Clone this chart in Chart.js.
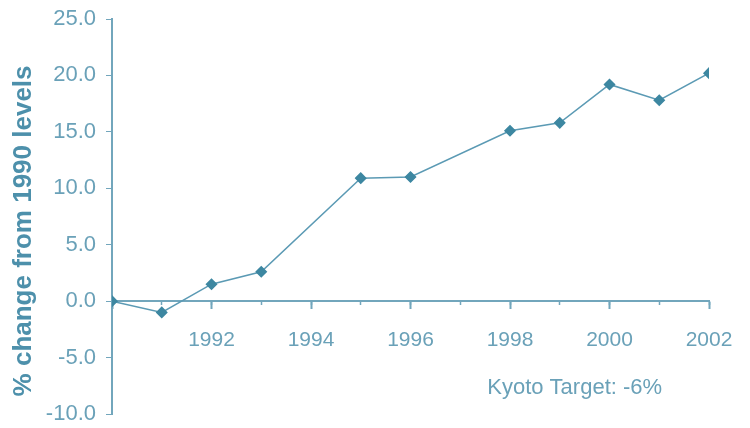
<!DOCTYPE html>
<html>
<head>
  <title>Change from 1990 levels</title>
  <script src="https://cdn.jsdelivr.net/npm/chart.js"></script>
  <style>
    body { margin: 0; background: #fff; }
    #wrap { width: 750px; height: 428px; }
  </style>
</head>
<body>
<div id="wrap"><canvas id="chart"></canvas></div>
<script>
  const years = [1990, 1991, 1992, 1993, 1995, 1996, 1998, 1999, 2000, 2001, 2002];
  const change = [0.0, -1.0, 1.5, 2.6, 10.9, 11.0, 15.1, 15.8, 19.2, 17.8, 20.2];
  const yTicks = [-10, -5, 0, 5, 10, 15, 20, 25];
  const noteText = 'Kyoto Target: -6%';
  const noteAt = { x: 1999.3, y: -7.7 };

  const textColor = '#6aa1b8';
  const axisColor = '#72a6bc';
  const font = 'Liberation Sans, Arial, sans-serif';

  // draws the Kyoto note at data coordinates
  const notePlugin = {
    id: 'note',
    afterDraw(chart) {
      const c = chart.ctx;
      const px = chart.scales.x.getPixelForValue(noteAt.x);
      const py = chart.scales.y.getPixelForValue(noteAt.y);
      c.save();
      c.fillStyle = textColor;
      c.font = '22px ' + font;
      c.textAlign = 'center';
      c.textBaseline = 'middle';
      c.fillText(noteText, px, py);
      c.restore();
    }
  };

  // no extra room for edge labels, the layout padding decides
  const noPad = s => { s.paddingTop = 0; s.paddingBottom = 0; s.paddingLeft = 0; s.paddingRight = 0; };

  new Chart(document.getElementById('chart'), {
    type: 'line',
    data: {
      datasets: [{
        data: years.map((yr, i) => ({ x: yr, y: change[i] })),
        borderColor: '#5b9ab4',
        borderWidth: 1.5,
        pointStyle: 'rectRot',
        pointRadius: 5,
        pointBackgroundColor: '#3d87a1',
        pointBorderColor: '#3d87a1',
        tension: 0
      }]
    },
    options: {
      responsive: true,
      maintainAspectRatio: false,
      animation: false,
      layout: { padding: { top: 19, right: 41, bottom: 14, left: 0 } },
      plugins: { legend: { display: false }, tooltip: { enabled: false } },
      scales: {
        y: {
          min: -10, max: 25,
          afterBuildTicks: s => { s.ticks = yTicks.map(v => ({ value: v })); },
          afterFit: s => { s.width = 112; noPad(s); },
          grid: { drawOnChartArea: false, tickLength: 6, tickColor: axisColor },
          border: { color: axisColor, width: 2 },
          ticks: {
            color: textColor, padding: 10,
            font: { family: font, size: 22 },
            callback: v => v.toFixed(1)
          },
          title: {
            display: true, text: '% change from 1990 levels    ',
            color: '#4d90ab', padding: { top: 8, bottom: 0 },
            font: { family: font, size: 26, weight: 'bold' }
          }
        },
        x: {
          type: 'linear', position: { y: 0 },
          min: 1990, max: 2002,
          afterFit: noPad,
          ticks: {
            stepSize: 2, color: textColor, padding: 19,
            font: { family: font, size: 21 },
            callback: v => v > 1990 ? String(v) : ''
          },
          grid: { drawOnChartArea: false, tickLength: 7, tickColor: axisColor, tickWidth: 2 },
          border: { color: axisColor, width: 2 }
        },
        xMinor: {
          type: 'linear', position: { y: 0 }, axis: 'x',
          min: 1990, max: 2002,
          afterFit: noPad,
          ticks: { stepSize: 1, display: false },
          grid: { drawOnChartArea: false, tickLength: 4, tickColor: axisColor, tickWidth: 1.5 },
          border: { display: false }
        }
      }
    },
    plugins: [notePlugin]
  });
</script>
</body>
</html>
